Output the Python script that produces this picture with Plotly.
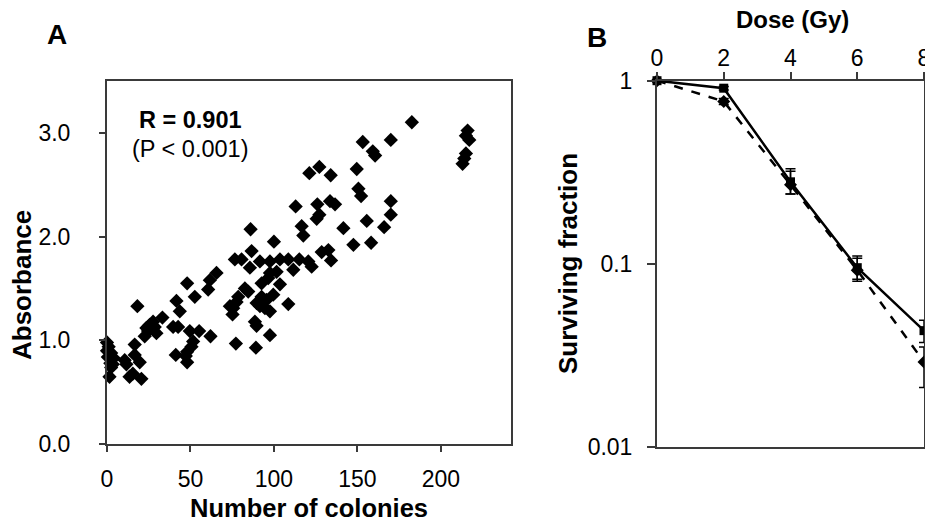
import plotly.graph_objects as go

# ---------------- Panel A data: colonies vs absorbance ----------------
colonies = [0, 1, 0, 2.5, 0.5, 4, 2, 3.5, 2.5, 1.5,
            10.6, 11.6, 16.6, 16.6, 19.6, 13.5, 15.5, 20.6, 18.2,
            22.6, 23.6, 24.6, 25.6, 27.6, 28.6, 29.6, 33.2,
            39.6, 42.6, 41.6, 43.6, 41.2,
            48.0, 52.6, 49.6, 55.2, 51.6, 50.6, 48.0, 47.2, 48.0,
            62.0, 65.6, 61.6, 60.6,
            73.6, 75.6, 75.2, 77.6, 78.6, 82.6, 84.6, 76.6, 80.6, 77.2,
            85.6, 86.6, 86.0, 88.6, 89.6, 89.2, 89.6, 91.6, 92.6, 92.6, 91.6,
            94.6, 97.6, 95.6, 97.6, 97.6, 97.6, 96.6, 99.6, 100.0, 101.6, 103.6, 103.6,
            108.6, 108.6, 111.6, 113.0, 115.2, 116.6, 117.6,
            120.6, 121.2, 122.6, 125.6, 126.0, 127.2, 127.2, 128.6,
            132.6, 133.6, 134.0, 134.2, 136.6,
            141.6, 147.6, 149.6, 150.6, 152.2, 153.2, 155.6, 158.2, 159.2, 160.6,
            166.0, 170.0, 170.0, 170.0, 182.6,
            213, 214, 215, 215, 216, 217]
absorbance = [0.98, 0.94, 0.90, 0.88, 0.84, 0.83, 0.78, 0.77, 0.74, 0.65,
              0.81, 0.77, 0.96, 0.86, 0.79, 0.65, 0.68, 0.63, 1.33,
              1.04, 1.12, 1.09, 1.15, 1.18, 1.13, 1.07, 1.22,
              1.13, 1.13, 1.38, 1.28, 0.86,
              1.55, 1.42, 1.09, 1.09, 0.99, 0.94, 0.89, 0.85, 0.79,
              1.04, 1.65, 1.58, 1.49,
              1.33, 1.31, 1.25, 1.37, 1.42, 1.50, 1.47, 1.78, 1.78, 0.97,
              1.70, 1.86, 2.07, 1.18, 1.14, 0.93, 1.36, 1.33, 1.55, 1.42, 1.76,
              1.31, 1.28, 1.39, 1.05, 1.76, 1.65, 1.60, 1.44, 1.95, 1.66, 1.54, 1.78,
              1.78, 1.35, 1.68, 2.29, 1.78, 2.10, 2.01,
              1.76, 2.61, 1.71, 2.17, 2.31, 2.21, 2.67, 1.85,
              1.87, 2.34, 2.59, 1.77, 2.31,
              2.08, 1.92, 2.65, 2.46, 2.39, 2.91, 2.15, 1.94, 2.82, 2.78,
              2.09, 2.34, 2.21, 2.93, 3.10,
              2.70, 2.75, 2.80, 2.97, 3.02, 2.93]

# ---------------- Panel B data: survival curves ----------------
dose = [0, 2, 4, 6, 8]
sf_solid = [1.0, 0.91, 0.28, 0.095, 0.043]
sf_solid_up = [0.0, 0.02, 0.05, 0.015, 0.006]
sf_solid_dn = [0.0, 0.02, 0.04, 0.013, 0.006]
sf_dashed = [1.0, 0.77, 0.27, 0.092, 0.029]
sf_dashed_up = [0.0, 0.03, 0.05, 0.015, 0.006]
sf_dashed_dn = [0.0, 0.03, 0.03, 0.012, 0.008]

W, H = 925, 523
def px(x):
    return x / W
def py(y):
    return 1 - y / H

AX = "#3a3a3a"
FONT = "Liberation Sans, Arial, sans-serif"

fig = go.Figure()

fig.add_trace(go.Scatter(
    x=colonies, y=absorbance, mode="markers",
    marker=dict(symbol="diamond", size=11, color="black"),
    xaxis="x", yaxis="y", showlegend=False, cliponaxis=False,
    hoverinfo="skip"))

fig.add_trace(go.Scatter(
    x=dose, y=sf_dashed, mode="lines+markers",
    line=dict(color="black", width=2.5, dash="dash"),
    marker=dict(symbol="diamond", size=10, color="black"),
    error_y=dict(type="data", array=sf_dashed_up, arrayminus=sf_dashed_dn,
                 color="black", thickness=1.5, width=5),
    xaxis="x2", yaxis="y2", showlegend=False, cliponaxis=False,
    hoverinfo="skip"))

fig.add_trace(go.Scatter(
    x=dose, y=sf_solid, mode="lines+markers",
    line=dict(color="black", width=2.5),
    marker=dict(symbol="square", size=9, color="black"),
    error_y=dict(type="data", array=sf_solid_up, arrayminus=sf_solid_dn,
                 color="black", thickness=1.5, width=5),
    xaxis="x2", yaxis="y2", showlegend=False, cliponaxis=False,
    hoverinfo="skip"))

tickfont = dict(family=FONT, size=23, color="black")
common = dict(ticks="outside", tickwidth=2, tickcolor=AX, showline=True,
              linecolor=AX, linewidth=2, mirror=True, showgrid=False,
              zeroline=False, tickfont=tickfont, automargin=False,
              ticklabeloverflow="allow", fixedrange=True)

fig.update_layout(
    width=W, height=H,
    margin=dict(l=0, r=0, t=0, b=0, pad=0),
    paper_bgcolor="white", plot_bgcolor="white",
    font=dict(family=FONT, color="black"),
    xaxis=dict(domain=[px(107), px(511)], range=[0, 242], anchor="y",
               tickvals=[0, 50, 100, 150, 200], ticklen=6,
               ticklabelstandoff=7, **common),
    yaxis=dict(domain=[py(444.3), py(80.7)], range=[0, 3.5], anchor="x",
               tickvals=[0, 1, 2, 3], tickformat=".1f", ticklen=6,
               ticklabelstandoff=24, **common),
    xaxis2=dict(domain=[px(657), px(924)], range=[0, 8], anchor="y2",
                side="top", tickvals=[0, 2, 4, 6, 8], ticklen=7,
                ticklabelstandoff=-3, **common),
    yaxis2=dict(domain=[py(446.5), py(80.7)], type="log", range=[-2, 0],
                anchor="x2", tickvals=[0.01, 0.1, 1],
                ticktext=["0.01", "0.1", "1"], ticklen=8,
                ticklabelstandoff=10, **common),
)

def ann(text, x, y, size, bold=False, angle=0, xref="paper", yref="paper"):
    fig.add_annotation(
        text=f"<b>{text}</b>" if bold else text,
        x=x, y=y, xref=xref, yref=yref, showarrow=False,
        textangle=angle, xanchor="center", yanchor="middle",
        font=dict(family=FONT, size=size, color="black"))

ann("A", px(57), py(35), 28, bold=True)
ann("B", px(597), py(37), 28, bold=True)
ann("Absorbance", px(22), py(285), 26, bold=True, angle=-90)
ann("Number of colonies", px(309), py(508), 25.5, bold=True)
ann("Dose (Gy)", px(792), py(20), 24, bold=True)
ann("Surviving fraction", px(568), py(264), 26, bold=True, angle=-90)
ann("R = 0.901", 50, 3.12, 23.5, bold=True, xref="x", yref="y")
ann("(P < 0.001)", 50, 2.84, 23.5, xref="x", yref="y")

# remove the default page margin so the figure sits at the window's corner
fig.write_html(
    "out.html",
    config={"displayModeBar": False, "staticPlot": True},
    post_script="document.body.style.margin='0';"
                "document.body.style.overflow='hidden';")
